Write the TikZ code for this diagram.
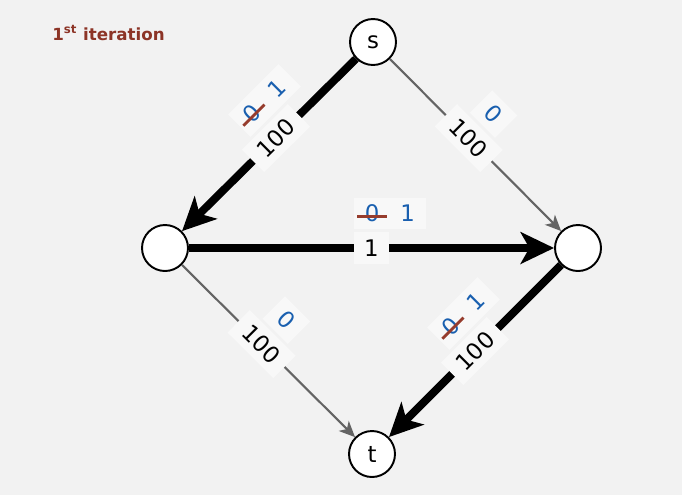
\documentclass[tikz,border=0pt]{standalone}
\usepackage{fontspec}
\setmainfont{DejaVu Sans}
\usetikzlibrary{arrows.meta,positioning,calc}
\definecolor{pagebg}{RGB}{242,242,242}
\definecolor{labelbg}{RGB}{248,248,248}
\definecolor{flowblue}{RGB}{25,95,175}
\definecolor{oldred}{RGB}{150,60,45}
\definecolor{titlered}{RGB}{140,52,38}
\definecolor{thingray}{RGB}{100,100,100}
\newcommand\oldflow[1]{\ooalign{#1\cr\hidewidth\textcolor{oldred}{\rule[2.4pt]{17pt}{1.6pt}}\hidewidth\cr}}

\begin{document}
\begin{tikzpicture}[x=0.02cm, y=-0.02cm, font=\fontsize{13}{15}\selectfont,
  vertex/.style={draw, circle, fill=white, line width=1.1pt, minimum size=0.92cm, inner sep=0pt},
  flowedge/.style={line width=4.5pt, -{Stealth[length=19pt,width=18pt,inset=5pt]}},
  idleedge/.style={line width=1.2pt, draw=thingray, -{Stealth[length=9pt,width=8pt,inset=2.5pt]}},
  caplabel/.style={fill=labelbg, sloped, inner xsep=6pt, inner ysep=0pt, minimum height=18pt, outer xsep=0pt, outer ysep=1.5pt},
  flowlabel/.style={fill=labelbg, text=flowblue, inner xsep=6pt, inner ysep=0pt, minimum height=18pt, anchor=south west}]
\path[use as bounding box, fill=pagebg] (0,0) rectangle (682,495);
\node[anchor=base west, inner sep=0pt, text=titlered, font=\fontsize{9.5}{11}\selectfont\bfseries] (title) at (52,40) {1\textsuperscript{st} iteration};
\node[vertex] (s) at (373,42) {s};
\node[vertex] (l) at (165,248) {};
\node[vertex] (r) at (578,248) {};
\node[vertex] (t) at (372,454) {t};

\draw[flowedge] (s) -- node[caplabel, pos=0.46] (csl) {100} (l);
\draw[idleedge] (s) -- node[caplabel, pos=0.46] (csr) {100} (r);
\draw[flowedge] (l) -- node[caplabel, pos=0.5] (clr) {1} (r);
\draw[idleedge] (l) -- node[caplabel, pos=0.46] (clt) {100} (t);
\draw[flowedge] (r) -- node[caplabel, pos=0.5] (crt) {100} (t);

\node[flowlabel, rotate=45] (fsl) at ($(csl.north)!10pt!(csl.north west)$) {\oldflow{0}\hspace{12pt}1};
\node[flowlabel, rotate=-45] (fsr) at ($(csr.north)!10pt!(csr.north west)$) {0};
\node[flowlabel] (flr) at ($(clr.north)!10pt!(clr.north west)$) {\oldflow{0}\hspace{12pt}1};
\node[flowlabel, rotate=-45] (flt) at ($(clt.north)!10pt!(clt.north west)$) {0};
\node[flowlabel, rotate=45] (frt) at ($(crt.north)!10pt!(crt.north west)$) {\oldflow{0}\hspace{12pt}1};
\end{tikzpicture}
\end{document}
